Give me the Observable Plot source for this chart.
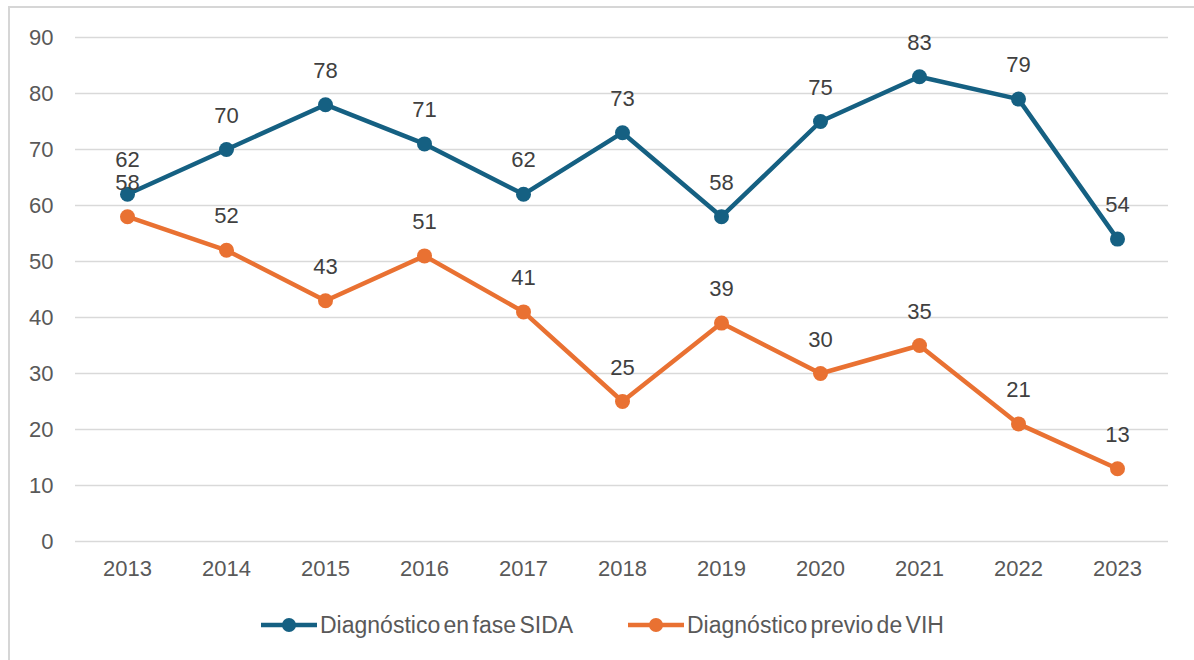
<!DOCTYPE html>
<html>
<head>
<meta charset="utf-8">
<script src="https://cdn.jsdelivr.net/npm/d3@7"></script>
<script src="https://cdn.jsdelivr.net/npm/@observablehq/plot@0.6"></script>
<style>
  html, body { margin: 0; padding: 0; background: #fff; }
  #wrap { position: relative; width: 1194px; height: 660px; overflow: hidden; font-family: "Liberation Sans", Arial, sans-serif; }
  #frame { position: absolute; left: 8px; top: 6px; width: 1300px; height: 800px; border-left: 2px solid #d6d6d6; border-top: 2px solid #d6d6d6; box-sizing: border-box; }
  #chart { position: absolute; left: 0; top: 0; }
  #legend { position: absolute; left: 0; top: 610px; width: 1194px; height: 30px; }
  .item { position: absolute; top: 0; height: 30px; display: flex; align-items: center; font-size: 23px; color: #595959; word-spacing: -3px; white-space: nowrap; }
  .item svg { margin-right: 3px; }
</style>
</head>
<body>
<div id="wrap">
  <div id="frame"></div>
  <div id="chart"></div>
  <div id="legend"></div>
</div>
<script>
const years = ["2013","2014","2015","2016","2017","2018","2019","2020","2021","2022","2023"];
const seriesNames = ["Diagnóstico en fase SIDA", "Diagnóstico previo de VIH"];
const sidaValues = [62, 70, 78, 71, 62, 73, 58, 75, 83, 79, 54];
const previoValues = [58, 52, 43, 51, 41, 25, 39, 30, 35, 21, 13];
const yTicks = [0, 10, 20, 30, 40, 50, 60, 70, 80, 90];
const colors = ["#156082", "#E97132"];

const data = [
  ...years.map((y, i) => ({year: y, value: sidaValues[i], series: seriesNames[0]})),
  ...years.map((y, i) => ({year: y, value: previoValues[i], series: seriesNames[1]}))
];

const chart = Plot.plot({
  width: 1194,
  height: 600,
  marginLeft: 75,
  marginRight: 26,
  marginTop: 37,
  marginBottom: 59,
  style: {fontFamily: "'Liberation Sans', Arial, sans-serif", fontSize: "22px", color: "#595959", background: "transparent"},
  x: {type: "point", domain: years, padding: 0.5, label: null},
  y: {domain: [0, 90], label: null},
  color: {domain: seriesNames, range: colors},
  marks: [
    Plot.ruleY(yTicks, {stroke: "#d9d9d9", strokeWidth: 1.5}),
    Plot.axisX({tickSize: 0, tickPadding: 19, fontSize: 22, fill: "#595959", label: null}),
    Plot.axisY({ticks: yTicks, tickSize: 0, tickPadding: 22, fontSize: 22, fill: "#595959", label: null}),
    Plot.line(data, {x: "year", y: "value", z: "series", stroke: "series", strokeWidth: 4.5, strokeLinejoin: "round"}),
    Plot.dot(data, {x: "year", y: "value", fill: "series", r: 7.5}),
    Plot.text(data, {x: "year", y: "value", text: d => String(d.value), dy: -34, fontSize: 22, fill: "#404040"})
  ]
});
document.getElementById("chart").appendChild(chart);

const legend = document.getElementById("legend");
const legendLeft = [261, 628];
seriesNames.forEach((name, i) => {
  const div = document.createElement("div");
  div.className = "item";
  div.style.left = legendLeft[i] + "px";
  div.innerHTML = `<svg width="56" height="20"><line x1="0" y1="10" x2="56" y2="10" stroke="${colors[i]}" stroke-width="4.5"/><circle cx="28" cy="10" r="7" fill="${colors[i]}"/></svg><span>${name}</span>`;
  legend.appendChild(div);
});
</script>
</body>
</html>
